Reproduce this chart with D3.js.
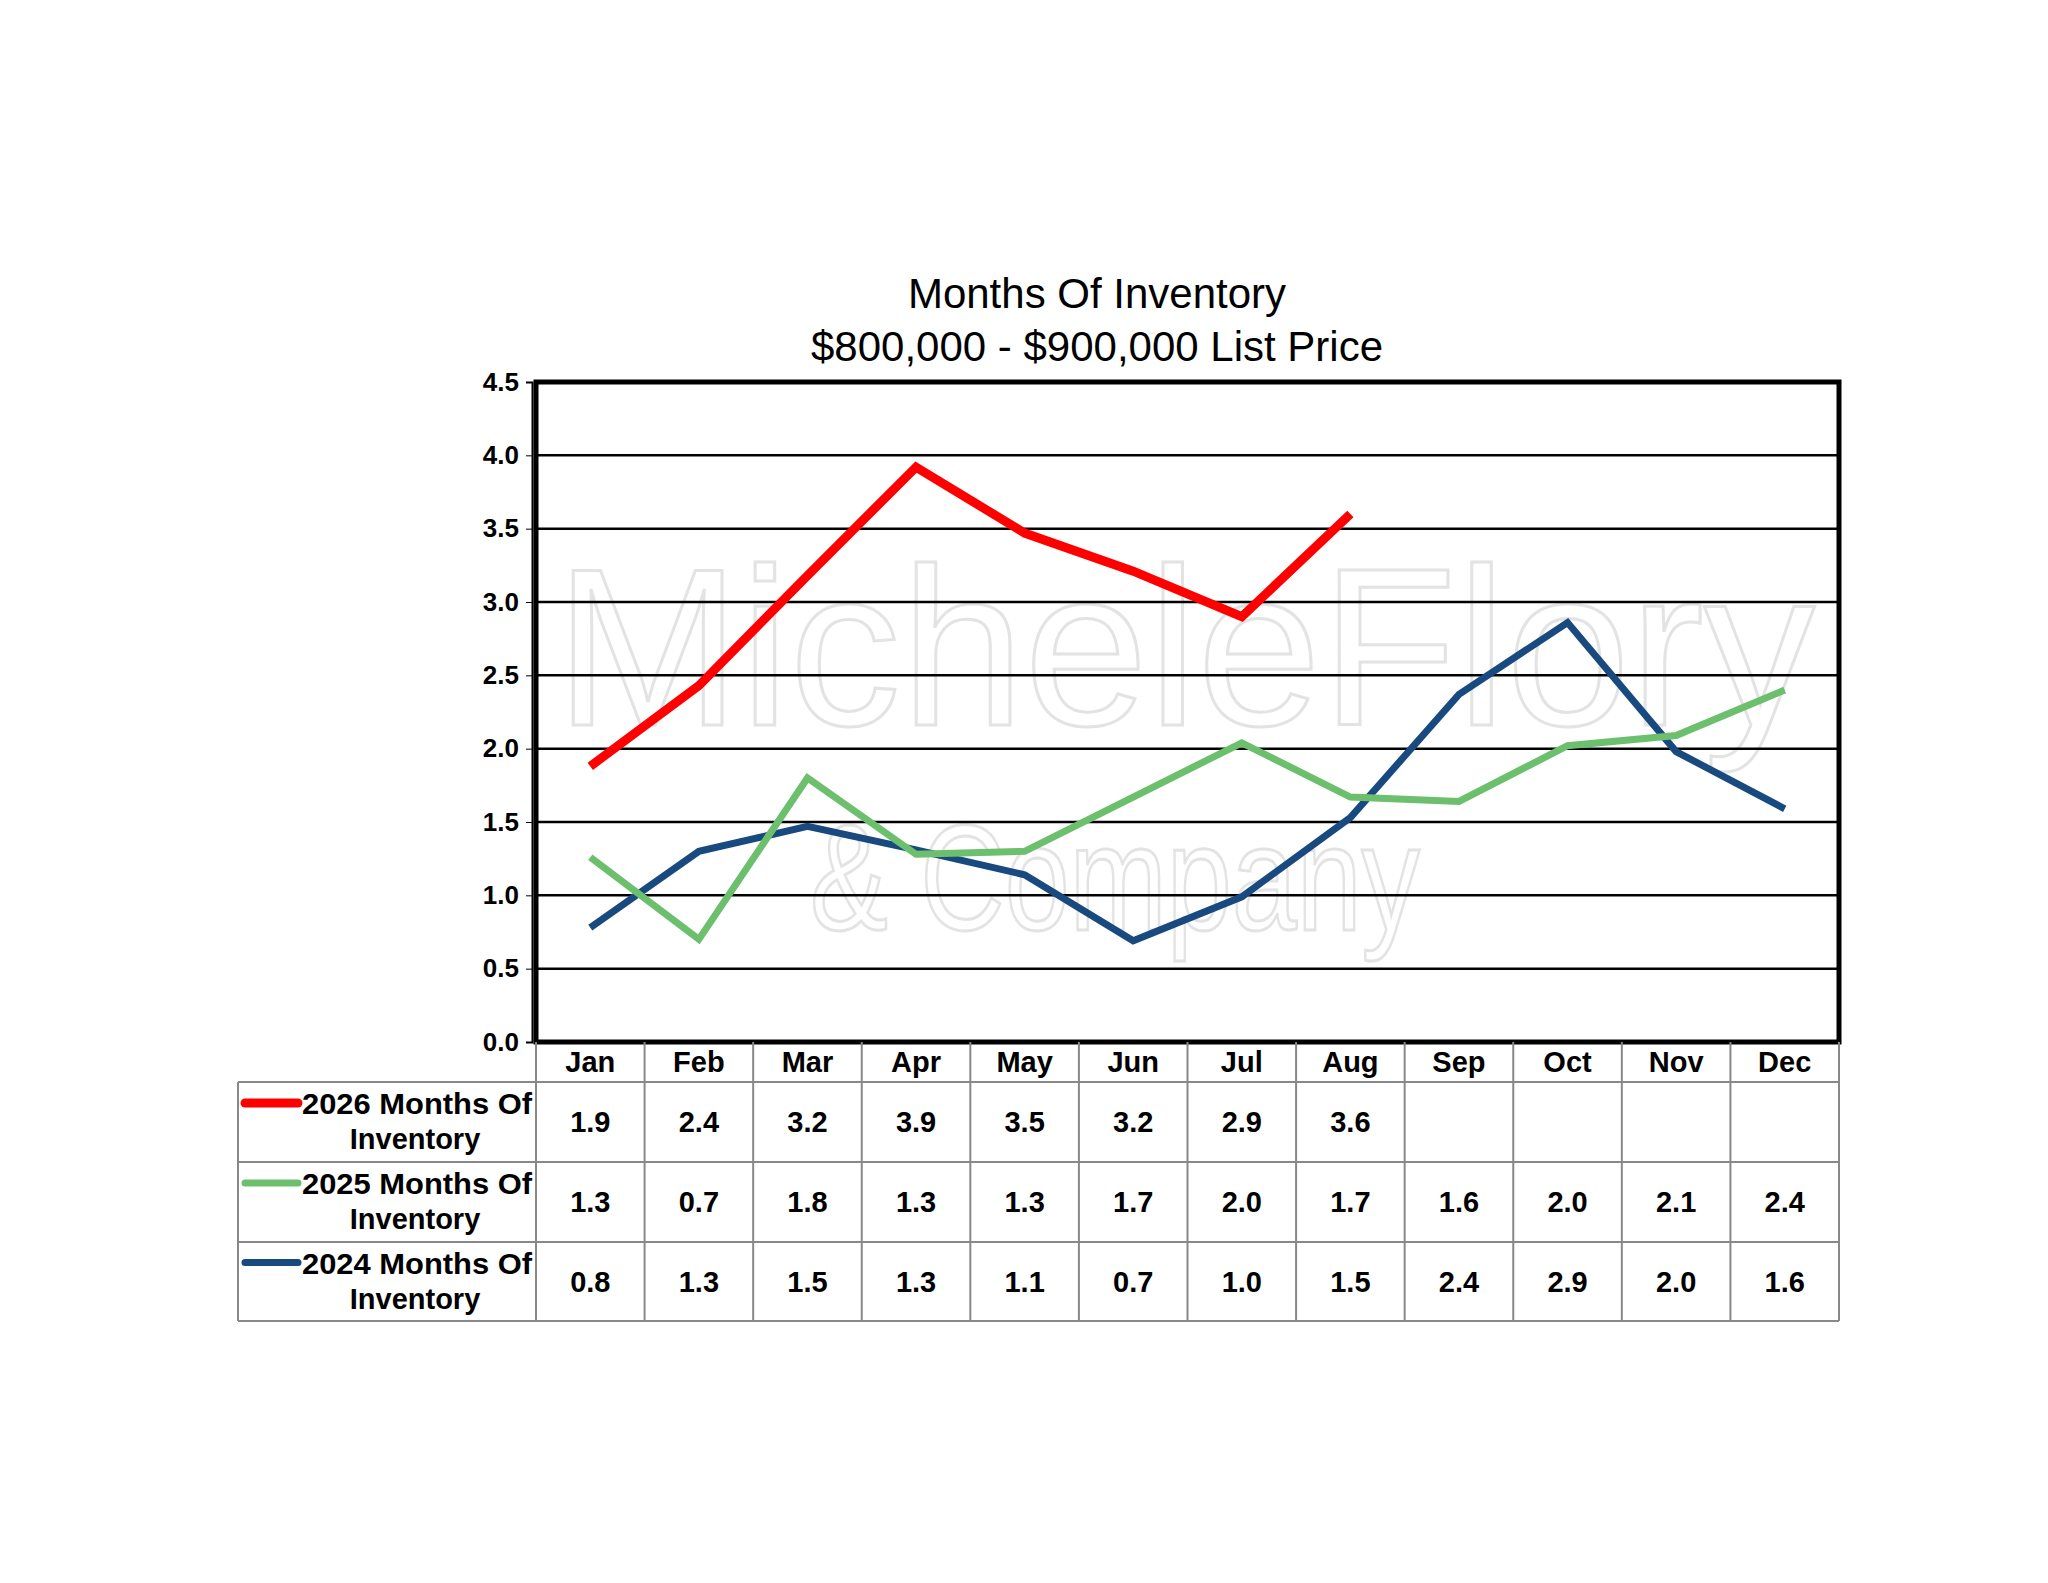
<!DOCTYPE html>
<html><head><meta charset="utf-8">
<script src="https://cdn.jsdelivr.net/npm/d3@7"></script>
<style>body{margin:0;background:#fff}svg{display:block}</style>
</head><body>
<svg id="chart" width="2048" height="1583"></svg>
<script>
const months = ["Jan","Feb","Mar","Apr","May","Jun","Jul","Aug","Sep","Oct","Nov","Dec"];
const yTicks = [0,0.5,1,1.5,2,2.5,3,3.5,4,4.5];
const v2026 = [1.88,2.43,3.18,3.92,3.47,3.21,2.90,3.60];
const v2025 = [1.26,0.70,1.80,1.28,1.30,1.67,2.04,1.67,1.64,2.02,2.09,2.40];
const v2024 = [0.78,1.30,1.47,1.31,1.14,0.69,0.99,1.53,2.37,2.86,1.98,1.59];
const t2026 = ["1.9","2.4","3.2","3.9","3.5","3.2","2.9","3.6","","","",""];
const t2025 = ["1.3","0.7","1.8","1.3","1.3","1.7","2.0","1.7","1.6","2.0","2.1","2.4"];
const t2024 = ["0.8","1.3","1.5","1.3","1.1","0.7","1.0","1.5","2.4","2.9","2.0","1.6"];

const series = [
  {name:"2026 Months Of", vals:v2026, txt:t2026, color:"#ff0000", w:9},
  {name:"2025 Months Of", vals:v2025, txt:t2025, color:"#6cbf6c", w:7},
  {name:"2024 Months Of", vals:v2024, txt:t2024, color:"#184a80", w:7}
];

const svg = d3.select("#chart");
const L=536, R=1839, T=382, B=1042, tabL=238;
const rowY=[1042,1082,1162,1242,1321];
const font="Liberation Sans, Arial, sans-serif";

const x = d3.scaleBand().domain(months).range([L,R]);
const y = d3.scaleLinear().domain([0,4.5]).range([B,T]);

svg.append("text").attr("x",1097).attr("y",308).attr("text-anchor","middle")
  .attr("font-family",font).attr("font-size",42).text("Months Of Inventory");
svg.append("text").attr("x",1097).attr("y",361).attr("text-anchor","middle")
  .attr("font-family",font).attr("font-size",42).text("$800,000 - $900,000 List Price");

// watermark
svg.append("text").attr("x",555).attr("y",725).attr("font-family",font).attr("font-size",225)
  .attr("textLength",1260).attr("lengthAdjust","spacingAndGlyphs")
  .attr("fill","none").attr("stroke","#e3e3e3").attr("stroke-width",3).text("MicheleFlory");
svg.append("text").attr("x",810).attr("y",930).attr("font-family",font).attr("font-size",150)
  .attr("textLength",610).attr("lengthAdjust","spacingAndGlyphs")
  .attr("fill","none").attr("stroke","#e3e3e3").attr("stroke-width",3).text("& Company");

// grid
svg.append("g").selectAll("line").data(yTicks.slice(1)).join("line")
  .attr("x1",L).attr("x2",R).attr("y1",d=>y(d)).attr("y2",d=>y(d))
  .attr("stroke","#000").attr("stroke-width",2.5);
svg.append("rect").attr("x",L).attr("y",T).attr("width",R-L).attr("height",B-T)
  .attr("fill","none").attr("stroke","#000").attr("stroke-width",5);

const ya = svg.append("g").attr("transform",`translate(${L-4},0)`)
  .call(d3.axisLeft(y).tickValues(yTicks).tickFormat(d3.format(".1f")).tickSize(6));
ya.select(".domain").attr("stroke","#000").attr("stroke-width",2);
ya.selectAll("text").attr("font-family",font).attr("font-size",26).attr("font-weight","bold").attr("dx",-4);

// lines
const line = d3.line().x((d,i)=>x(months[i])+x.bandwidth()/2).y(d=>y(d));
series.slice().reverse().forEach(s=>{
  svg.append("path").attr("d",line(s.vals)).attr("fill","none")
    .attr("stroke",s.color).attr("stroke-width",s.w).attr("stroke-linejoin","miter");
});

// table
const tg = svg.append("g").attr("font-family",font).attr("font-weight","bold");
const gray="#888";
months.forEach(m=>{
  tg.append("text").attr("x",x(m)+x.bandwidth()/2).attr("y",1072).attr("text-anchor","middle")
    .attr("font-size",29).text(m);
});
months.forEach(m=>{
  tg.append("line").attr("x1",x(m)).attr("x2",x(m)).attr("y1",B).attr("y2",rowY[4]).attr("stroke",gray).attr("stroke-width",2);
});
tg.append("line").attr("x1",R).attr("x2",R).attr("y1",B).attr("y2",rowY[4]).attr("stroke",gray).attr("stroke-width",2);
tg.append("line").attr("x1",tabL).attr("x2",tabL).attr("y1",rowY[1]).attr("y2",rowY[4]).attr("stroke",gray).attr("stroke-width",2);
[1,2,3,4].forEach(k=>{
  tg.append("line").attr("x1",tabL).attr("x2",R).attr("y1",rowY[k]).attr("y2",rowY[k]).attr("stroke",gray).attr("stroke-width",2);
});
series.forEach((s,k)=>{
  const y0=rowY[k+1], y1=rowY[k+2], mid=(y0+y1)/2;
  tg.append("line").attr("x1",245).attr("x2",298).attr("y1",mid-19).attr("y2",mid-19)
    .attr("stroke",s.color).attr("stroke-width",s.w).attr("stroke-linecap","round");
  tg.append("text").attr("x",532).attr("y",mid-8).attr("text-anchor","end").attr("font-size",29)
    .attr("textLength",230).attr("lengthAdjust","spacingAndGlyphs").text(s.name);
  tg.append("text").attr("x",415).attr("y",mid+27).attr("text-anchor","middle").attr("font-size",29).text("Inventory");
  s.txt.forEach((t,i)=>{
    tg.append("text").attr("x",x(months[i])+x.bandwidth()/2).attr("y",mid+10).attr("text-anchor","middle")
      .attr("font-size",29).text(t);
  });
});
</script>
</body></html>
